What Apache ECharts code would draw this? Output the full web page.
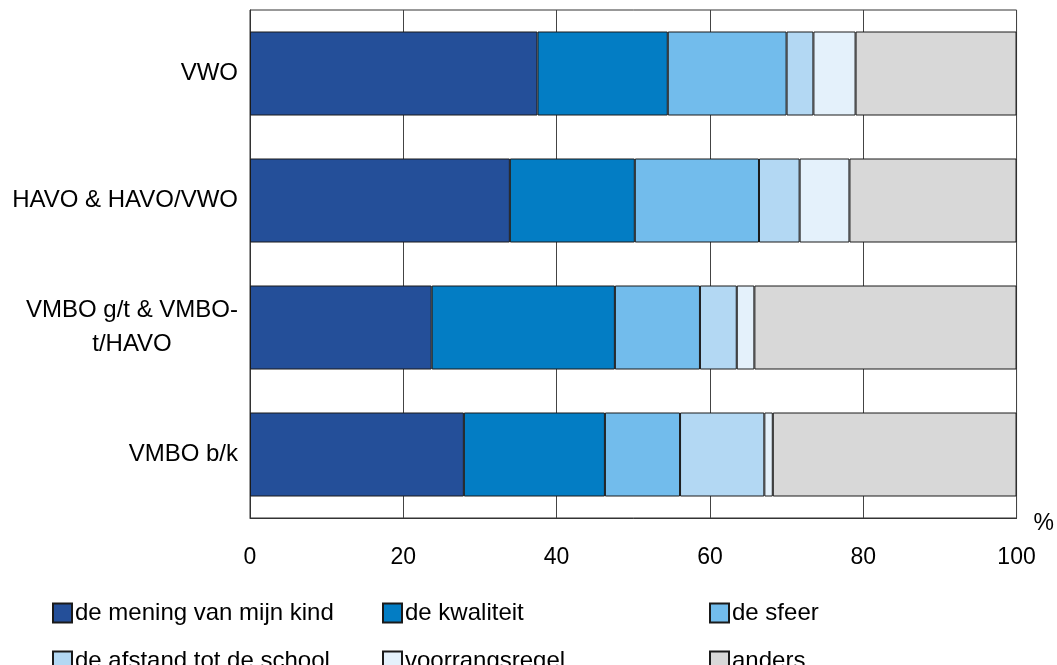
<!DOCTYPE html>
<html><head><meta charset="utf-8">
<script src="https://cdn.jsdelivr.net/npm/echarts@6/dist/echarts.min.js"></script>
<style>html,body{margin:0;padding:0;background:#fff}#c{width:1057px;height:665px}</style>
</head><body><div id="c"></div>
<script>
const categories = ['VWO', 'HAVO & HAVO/VWO', 'VMBO g/t & VMBO-\nt/HAVO', 'VMBO b/k'];
const seriesNames = ['de mening van mijn kind', 'de kwaliteit', 'de sfeer', 'de afstand tot de school', 'voorrangsregel', 'anders'];
const meningKind = [37.5, 33.9, 23.7, 27.9];
const kwaliteit = [17.0, 16.3, 23.9, 18.4];
const sfeer = [15.5, 16.2, 11.1, 9.8];
const afstand = [3.5, 5.3, 4.8, 11.0];
const voorrang = [5.5, 6.5, 2.3, 1.1];
const anders = [21.0, 21.8, 34.2, 31.8];
const xTicks = [0, 20, 40, 60, 80, 100];
const colors = ['#244F99', '#037DC4', '#72BCEC', '#B3D8F3', '#E4F1FB', '#D8D8D8'];
const values = [meningKind, kwaliteit, sfeer, afstand, voorrang, anders];

const font = 'Liberation Sans, Arial, sans-serif';
const chart = echarts.init(document.getElementById('c'));
const legendPos = [[52, 601], [382, 601], [709, 601], [52, 649], [382, 649], [709, 649]];
chart.setOption({
  animation: false,
  grid: {left: 250, right: 39, top: 10, bottom: 147, show: true, borderColor: '#333', borderWidth: 1},
  xAxis: {
    type: 'value', min: 0, max: 100, interval: 20,
    axisLine: {show: true, lineStyle: {color: '#333'}},
    axisTick: {show: false},
    splitLine: {show: true, lineStyle: {color: '#444', width: 1}},
    axisLabel: {color: '#000', fontSize: 23, fontFamily: font, margin: 28,
      formatter: v => xTicks.includes(v) ? String(v) : ''},
    name: '%', nameLocation: 'end', nameGap: 17,
    nameTextStyle: {color: '#000', fontSize: 23, fontFamily: font, verticalAlign: 'top', padding: [-6, 0, 0, 0]}
  },
  yAxis: {
    type: 'category', data: categories, inverse: true,
    axisLine: {show: true, lineStyle: {color: '#333'}},
    axisTick: {show: false},
    axisLabel: {color: '#000', fontSize: 24, fontFamily: font, margin: 12, lineHeight: 34,
      formatter: v => v.indexOf('\n') >= 0 ? v.split('\n').map(s => '{c|' + s + '}').join('\n') : v,
      rich: {c: {width: 212, align: 'center', fontSize: 24, fontFamily: font, color: '#000', lineHeight: 34}}}
  },
  legend: seriesNames.map((n, i) => ({
    left: legendPos[i][0], top: legendPos[i][1], padding: 0,
    itemWidth: 19, itemHeight: 19, itemGap: 0,
    icon: 'rect',
    textStyle: {color: '#000', fontSize: 24, fontFamily: font, padding: [0, 0, 0, -2]},
    data: [n]
  })),
  series: seriesNames.map((n, i) => ({
    name: n, type: 'bar', stack: 'tot', barWidth: 84,
    itemStyle: {color: colors[i], borderColor: '#1a1a1a', borderWidth: 1},
    data: values[i]
  }))
});
</script></body></html>
